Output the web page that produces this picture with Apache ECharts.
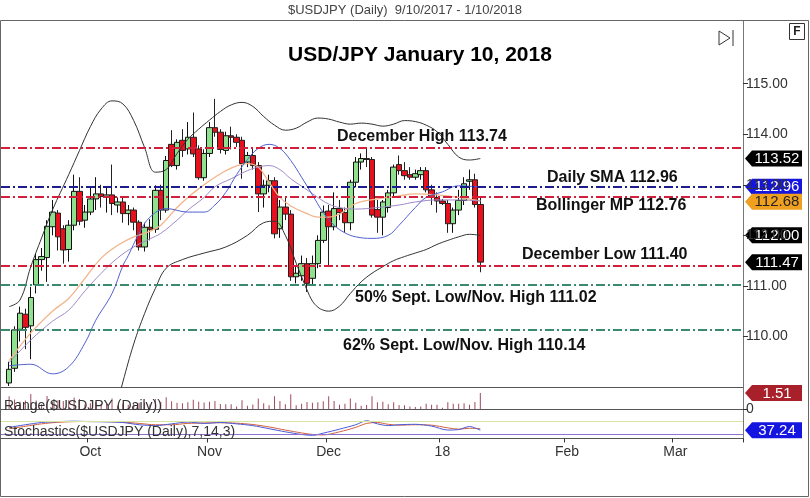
<!DOCTYPE html>
<html><head><meta charset="utf-8">
<script src="https://cdn.jsdelivr.net/npm/echarts@6/dist/echarts.min.js"></script>
<style>html,body{margin:0;padding:0;background:#fff}#c{width:810px;height:498px}</style>
</head><body><div id="c"></div>
<script>
// ---- candle data (Sep 11 2017 .. Jan 10 2018, weekdays) ----
const opens  = [109.08,109.37,110.14,110.44,110.21,111.02,111.52,111.56,112.17,112.44,112.13,111.72,112.20,112.87,112.30,
  112.46,112.72,112.82,112.77,112.80,112.60,112.66,112.43,112.50,112.26,111.77,112.16,112.12,112.89,112.50,113.80,113.38,113.88,113.71,113.94,113.71,113.14,
  113.62,114.13,114.04,113.68,113.97,113.94,113.88,113.45,113.58,113.38,112.82,112.99,113.08,112.13,112.56,112.42,111.18,111.20,111.44,111.15,111.44,111.90,
  112.48,112.17,112.53,112.45,112.25,113.05,113.45,113.52,113.50,112.51,112.36,112.55,112.84,113.40,113.28,113.20,113.15,113.20,113.28,112.90,112.75,
  112.68,112.63,112.23,112.50,112.69,113.07,113.10,112.61];
const highs  = [109.50,110.20,110.59,110.55,110.98,111.65,111.75,112.30,112.70,112.50,112.20,112.30,113.20,113.15,112.60,
  112.95,113.15,113.00,112.95,113.40,112.75,112.75,112.60,112.55,112.30,112.25,112.32,112.99,113.00,113.57,114.08,113.90,114.10,114.24,114.43,113.78,113.70,
  114.24,114.70,114.10,114.05,114.15,114.00,113.95,113.65,113.72,113.45,113.10,113.20,113.15,112.70,112.75,112.50,111.40,111.60,111.55,111.60,112.00,112.59,
  112.60,112.85,112.70,112.55,113.10,113.55,113.62,113.74,113.55,112.70,112.70,112.90,113.40,113.58,113.45,113.35,113.30,113.35,113.35,113.00,112.85,
  112.72,112.70,112.55,112.90,113.15,113.30,113.22,112.75];
const lows   = [109.02,109.30,109.90,109.75,109.55,110.85,111.30,111.08,112.00,111.70,111.44,111.48,112.10,112.20,112.15,
  112.40,112.50,112.55,112.45,112.40,112.45,112.25,112.20,112.10,111.70,111.68,111.90,112.05,112.30,112.45,113.35,113.30,113.55,113.60,113.55,113.10,113.08,
  113.55,113.95,113.62,113.60,113.70,113.75,113.12,113.35,113.30,112.46,112.55,112.85,111.94,111.95,112.30,111.10,111.05,111.10,110.88,111.00,111.35,111.85,
  111.40,112.10,112.30,112.05,112.10,112.95,113.30,113.35,112.35,112.05,112.00,112.45,112.75,113.20,113.10,113.10,113.10,113.10,112.85,112.60,112.45,
  112.60,112.05,112.05,112.40,112.60,112.90,112.55,111.27];
const closes = [109.35,110.13,110.46,110.18,110.77,111.52,111.58,112.18,112.46,111.97,111.71,112.20,112.87,112.28,112.46,
  112.72,112.82,112.77,112.80,112.63,112.66,112.43,112.50,112.26,111.77,112.16,112.12,112.89,112.50,113.48,113.38,113.84,113.68,113.94,113.61,113.14,113.62,
  114.13,114.04,113.70,113.97,113.94,113.84,113.42,113.58,113.38,112.82,112.99,113.08,112.03,112.56,112.42,111.18,111.25,111.44,111.05,111.44,111.90,112.46,
  112.17,112.53,112.45,112.25,113.05,113.45,113.52,113.50,112.40,112.36,112.66,112.84,113.35,113.28,113.18,113.15,113.22,113.28,112.90,112.75,112.68,
  112.63,112.23,112.50,112.69,113.02,113.10,112.61,111.47];
const dailyRange = [1.20,0.90,0.69,0.80,1.43,0.80,0.45,1.22,0.70,0.80,0.76,0.82,1.10,0.95,0.45,
  0.55,0.65,0.45,0.50,1.00,0.30,0.50,0.40,0.45,0.60,0.57,0.42,0.94,0.70,1.12,0.73,0.60,0.55,0.64,0.88,0.68,0.62,
  0.69,0.75,0.48,0.45,0.45,0.25,0.83,0.30,0.42,0.99,0.55,0.35,1.21,0.75,0.45,1.40,0.35,0.50,0.67,0.60,0.65,0.74,
  1.20,0.75,0.40,0.50,1.00,0.60,0.32,0.39,1.20,0.65,0.70,0.45,0.65,0.38,0.35,0.25,0.20,0.25,0.50,0.40,0.40,
  0.12,0.65,0.50,0.50,0.55,0.40,0.67,1.51];
// ---- indicator readings: [candle index, value] ----
const upperBand = [[0,110.59],[2,110.72],[4,111.38],[6,111.95],[8,112.5],[11,113.2],[13,113.68],[15,114.15],[17,114.5],[19,114.66],[21,114.6],[23,114.27],[25,113.74],[27,113.25],[29,113.3],[31,113.62],[33,113.9],[35,114.1],[37,114.28],[39,114.45],[41,114.58],[43,114.63],[45,114.55],[47,114.35],[49,114.18],[51,114.08],[53,114.12],[55,114.24],[57,114.32],[59,114.3],[61,114.24],[63,114.2],[65,114.22],[67,114.2],[69,114.16],[71,114.2],[73,114.27],[75,114.25],[77,114.18],[79,114.05],[81,113.8],[83,113.55],[85,113.49],[87,113.52]];
const lowerBand = [[0,106.9],[6,107.0],[12,107.3],[16,107.6],[19,108.3],[21,109.1],[23,109.85],[25,110.45],[27,110.95],[29,111.35],[32,111.52],[36,111.65],[40,111.77],[44,112.0],[47,112.25],[49,112.28],[51,112.0],[53,111.45],[54,111.18],[55,110.92],[56,110.7],[57,110.58],[58,110.52],[59,110.5],[61,110.6],[63,110.85],[65,111.08],[67,111.25],[69,111.38],[71,111.5],[73,111.58],[75,111.65],[77,111.72],[79,111.82],[81,111.9],[83,111.97],[85,112.02],[87,112.0]];
const blueSMA = [[0,109.42],[4,109.45],[8,109.26],[11,109.4],[14,109.87],[16,110.32],[19,110.85],[21,111.4],[22,111.6],[24,112.04],[26,112.36],[29,112.53],[33,112.46],[36,112.46],[38,112.6],[40,112.85],[42,113.2],[44,113.5],[46,113.72],[48,113.8],[50,113.72],[52,113.48],[54,113.15],[56,112.8],[58,112.45],[60,112.2],[62,112.05],[64,111.97],[67,111.94],[70,112.0],[72,112.2],[75,112.55],[77,112.75],[80,112.86],[83,112.98],[85,112.97],[87,112.96]];
const orangeMA = [[0,109.52],[4,110.07],[8,110.5],[11,110.75],[14,111.15],[17,111.55],[20,111.8],[23,111.97],[26,112.08],[28,112.2],[31,112.55],[33,112.75],[36,113.0],[38,113.15],[41,113.33],[44,113.42],[46,113.35],[48,113.05],[50,112.75],[52,112.58],[55,112.43],[57,112.36],[59,112.36],[61,112.42],[64,112.63],[68,112.72],[72,112.78],[75,112.82],[79,112.8],[83,112.75],[87,112.68]];
const purpleMA = [[0,109.48],[4,109.93],[8,110.3],[11,110.52],[14,110.9],[17,111.25],[20,111.55],[23,111.77],[26,111.93],[28,112.04],[31,112.3],[33,112.5],[36,112.75],[38,112.96],[41,113.12],[44,113.28],[46,113.35],[48,113.38],[50,113.3],[52,113.12],[55,112.9],[57,112.75],[59,112.62],[61,112.55],[64,112.52],[68,112.55],[72,112.6],[75,112.66],[79,112.7],[83,112.7],[87,112.68]];
const stochK = [[0,50],[3,62],[6,72],[9,76],[12,78],[15,76],[18,75],[21,72],[24,62],[27,58],[30,66],[33,74],[36,68],[39,72],[42,66],[45,58],[48,44],[51,30],[54,18],[56,14],[58,24],[61,42],[64,62],[66,80],[68,66],[70,58],[72,62],[75,64],[78,56],[81,38],[83,40],[85,54],[87,37.24]];
const stochD = [[0,44],[3,55],[6,66],[9,73],[12,76],[15,77],[18,76],[21,74],[24,68],[27,62],[30,62],[33,68],[36,70],[39,71],[42,69],[45,63],[48,52],[51,38],[54,25],[56,18],[58,16],[61,30],[64,50],[66,68],[68,72],[70,64],[72,60],[75,62],[78,60],[81,48],[83,42],[85,46],[87,44]];
const levelsRed = [113.74, 112.76, 111.40];
const levelBlue = 112.96;
const levelsGreen = [111.02, 110.14];
const priceTicks = [110, 111, 112, 113, 114, 115];
const tagValues = {upper:113.52, sma:112.96, mid:112.68, lower:112.00, last:111.47, range:1.51, stoch:37.24};
const monthNames = ['18','Feb','Mar','Apr','May','Jun','Jul','Aug','Sep','Oct','Nov','Dec'];

// categories: one leading blank slot + weekdays from Sep 11 2017
const N = 137;
const cats = [''];
const dt = new Date(Date.UTC(2017, 8, 11));
while (cats.length < N) {
  const wd = dt.getUTCDay();
  if (wd > 0 && wd < 6) cats.push(dt.toISOString().slice(0, 10));
  dt.setUTCDate(dt.getUTCDate() + 1);
}
function isMonthStart(i) { return i > 1 && cats[i].slice(5, 7) !== cats[i - 1].slice(5, 7); }
const shift = a => a.map(p => [p[0] + 1, p[1]]);
const candleData = opens.map((o, i) => [i + 1, o, closes[i], lows[i], highs[i]]);
const rangeData = dailyRange.map((r, i) => [i + 1, r]);

const FONT = '"Liberation Sans", Arial, sans-serif';
const RED = '#d11f3c', BLUE = '#1c1c8e', GREEN = '#3a8a70';
const dashDot = [9, 3, 2, 3];

const chart = echarts.init(document.getElementById('c'), null, {renderer: 'canvas'});
const gridRight = 67;
const xBase = (gi, extra) => Object.assign({
  type: 'category', gridIndex: gi, data: cats, boundaryGap: true,
  axisLine: {show: true, lineStyle: {color: '#555', width: 1}},
  axisTick: {show: false}, axisLabel: {show: false}, splitLine: {show: false}
}, extra || {});

const option = {
  animation: false,
  textStyle: {fontFamily: FONT},
  grid: [
    {left: 1, right: gridRight, top: 21, height: 366},
    {left: 1, right: gridRight, top: 387, height: 30},
    {left: 1, right: gridRight, top: 417, height: 23}
  ],
  xAxis: [
    xBase(0), xBase(1),
    xBase(2, {
      axisTick: {show: true, length: 4, interval: (i) => isMonthStart(i), lineStyle: {color: '#333'}},
      axisLabel: {show: true, interval: (i) => isMonthStart(i), margin: 5, fontSize: 14, color: '#333', fontFamily: FONT,
        formatter: v => v ? monthNames[+v.slice(5, 7) - 1] : ''}
    })
  ],
  yAxis: [
    {gridIndex: 0, position: 'right', min: 109, max: 116.24, scale: true,
      axisLine: {show: true, lineStyle: {color: '#777'}},
      axisTick: {show: true, length: 5, customValues: priceTicks, lineStyle: {color: '#333'}},
      axisLabel: {show: true, customValues: priceTicks, formatter: v => v.toFixed(2), fontSize: 14, color: '#333', margin: 3, fontFamily: FONT},
      splitLine: {show: false}},
    {gridIndex: 1, position: 'right', min: -0.75, max: 2.08,
      axisLine: {show: true, lineStyle: {color: '#777'}},
      axisTick: {show: true, length: 5, customValues: [0], lineStyle: {color: '#333'}},
      axisLabel: {show: true, customValues: [0], formatter: v => String(v), fontSize: 14, color: '#333', margin: 3, fontFamily: FONT},
      splitLine: {show: false}},
    {gridIndex: 2, position: 'right', min: -7, max: 97,
      axisLine: {show: true, lineStyle: {color: '#777'}},
      axisTick: {show: false}, axisLabel: {show: false}, splitLine: {show: false}}
  ],
  series: [
    {type: 'line', xAxisIndex: 0, yAxisIndex: 0, data: [], z: 1, silent: true,
      markLine: {symbol: 'none', silent: true, label: {show: false}, animation: false,
        data: levelsRed.map(v => ({yAxis: v, lineStyle: {color: RED, width: 2, type: dashDot}}))
          .concat([{yAxis: levelBlue, lineStyle: {color: BLUE, width: 2, type: dashDot}}])
          .concat(levelsGreen.map(v => ({yAxis: v, lineStyle: {color: GREEN, width: 2, type: dashDot}})))}},
    {type: 'candlestick', xAxisIndex: 0, yAxisIndex: 0, data: candleData, encode: {x: 0, y: [1, 2, 3, 4]},
      barWidth: 6, clip: true, z: 3,
      itemStyle: {color: '#8fe08f', color0: '#e8101c', borderColor: '#111', borderColor0: '#222', borderWidth: 1}},
    {type: 'line', xAxisIndex: 0, yAxisIndex: 0, data: shift(orangeMA), smooth: 0.4, symbol: 'none', z: 4,
      lineStyle: {color: '#f3b48a', width: 1.3}},
    {type: 'line', xAxisIndex: 0, yAxisIndex: 0, data: shift(purpleMA), smooth: 0.4, symbol: 'none', z: 4,
      lineStyle: {color: '#a08ac8', width: 1}},
    {type: 'line', xAxisIndex: 0, yAxisIndex: 0, data: shift(blueSMA), smooth: 0.4, symbol: 'none', z: 4,
      lineStyle: {color: '#5060d0', width: 1}},
    {type: 'line', xAxisIndex: 0, yAxisIndex: 0, data: shift(upperBand), smooth: 0.4, symbol: 'none', z: 4, clip: true,
      lineStyle: {color: '#333', width: 1}},
    {type: 'line', xAxisIndex: 0, yAxisIndex: 0, data: shift(lowerBand), smooth: 0.4, symbol: 'none', z: 4, clip: true,
      lineStyle: {color: '#333', width: 1}},
    {type: 'bar', xAxisIndex: 1, yAxisIndex: 1, data: rangeData, barWidth: 1, itemStyle: {color: '#a04a5e'}},
    {type: 'line', xAxisIndex: 2, yAxisIndex: 2, data: [], silent: true,
      markLine: {symbol: 'none', silent: true, label: {show: false}, animation: false,
        data: [{yAxis: 80, lineStyle: {color: '#d6e6a0', width: 1, type: 'solid'}},
               {yAxis: 20, lineStyle: {color: '#8f72cf', width: 1, type: 'solid'}}]}},
    {type: 'line', xAxisIndex: 2, yAxisIndex: 2, data: shift(stochD), smooth: 0.3, symbol: 'none',
      lineStyle: {color: '#d2603c', width: 1}},
    {type: 'line', xAxisIndex: 2, yAxisIndex: 2, data: shift(stochK), smooth: 0.3, symbol: 'none',
      lineStyle: {color: '#4a5ad8', width: 1}}
  ]
};
chart.setOption(option);

function tag(y, text, bg, fg) {
  return {type: 'group', z: 100, children: [
    {type: 'polygon', shape: {points: [[745, y], [752, y - 8], [802, y - 8], [802, y + 8], [752, y + 8]]}, style: {fill: bg}},
    {type: 'text', style: {text: text, x: 777, y: y + 0.5, textAlign: 'center', textVerticalAlign: 'middle',
      font: '15px ' + FONT, fill: fg}}
  ]};
}
const py = (axis, v) => chart.convertToPixel({yAxisIndex: axis}, v);
const ySma = py(0, tagValues.sma);
const txt = (s, x, y, size, weight, color, align) => ({type: 'text', z: 90, style: {text: s, x: x, y: y,
  textAlign: align || 'left', textVerticalAlign: 'middle', font: (weight || 'normal') + ' ' + size + 'px ' + FONT, fill: color || '#111'}});

chart.setOption({graphic: [
  {type: 'rect', z: 50, shape: {x: 0.5, y: 20.5, width: 808, height: 476}, style: {fill: 'none', stroke: '#666', lineWidth: 1}},
  txt('$USDJPY (Daily)  9/10/2017 - 1/10/2018', 405, 10, 13, 'normal', '#444', 'center'),
  txt('USD/JPY January 10, 2018', 420, 55, 21, 'bold', '#000', 'center'),
  txt('December High 113.74', 337, 137, 16, 'bold', '#111'),
  txt('Daily SMA 112.96', 547, 178, 16, 'bold', '#111'),
  txt('Bollinger MP 112.76', 536, 206, 16, 'bold', '#111'),
  txt('December Low 111.40', 522, 255, 16, 'bold', '#111'),
  txt('50% Sept. Low/Nov. High 111.02', 355, 298, 16, 'bold', '#111'),
  txt('62% Sept. Low/Nov. High 110.14', 343, 346, 16, 'bold', '#111'),
  txt('Range($USDJPY (Daily))', 4, 406, 14, 'normal', '#333'),
  txt('Stochastics($USDJPY (Daily),7,14,3)', 4, 432, 14, 'normal', '#333'),
  {type: 'polyline', z: 60, shape: {points: [[719, 31], [730, 38], [719, 45], [719, 31]]}, style: {fill: 'none', stroke: '#333', lineWidth: 1}},
  {type: 'line', z: 60, shape: {x1: 733, y1: 30, x2: 733, y2: 46}, style: {stroke: '#333', lineWidth: 1}},
  {type: 'rect', z: 60, shape: {x: 789.5, y: 23.5, width: 15, height: 16}, style: {fill: '#fff', stroke: '#333', lineWidth: 1}},
  txt('F', 797, 32, 12, 'bold', '#222', 'center'),
  tag(py(0, tagValues.upper), '113.52', '#000', '#fff'),
  tag(ySma, '112.96', '#1515e0', '#fff'),
  tag(ySma + 15, '112.68', '#f0a020', '#222'),
  tag(py(0, tagValues.lower), '112.00', '#000', '#fff'),
  tag(py(0, tagValues.last), '111.47', '#000', '#fff'),
  tag(py(1, tagValues.range), '1.51', '#a8202a', '#fff'),
  tag(py(2, tagValues.stoch), '37.24', '#1515e0', '#fff')
]});
</script></body></html>
